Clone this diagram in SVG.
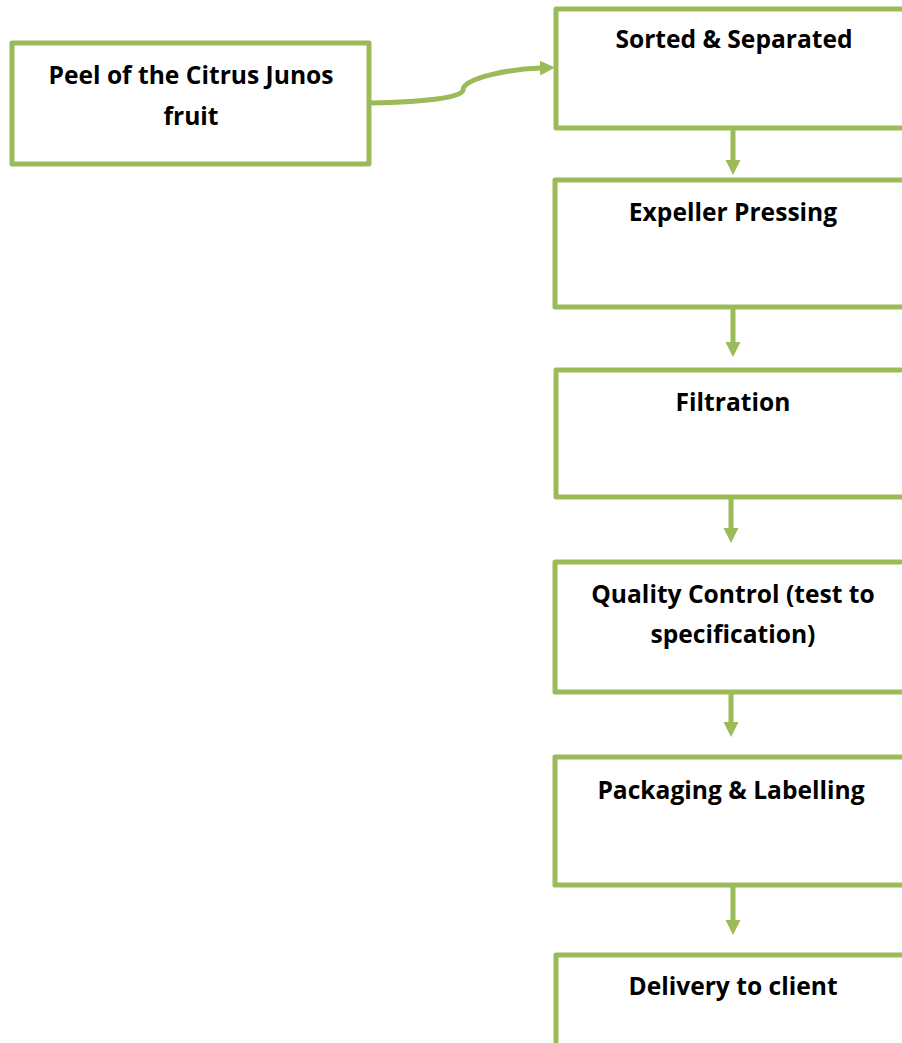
<svg xmlns="http://www.w3.org/2000/svg" width="902" height="1043" viewBox="0 0 902 1043">
<style>
.box{fill:#fff;stroke:#9BBB59;stroke-width:5;stroke-linejoin:round}
.lbl{font-family:"Open Sans","Liberation Sans",sans-serif;font-weight:bold;font-size:24.6px;fill:#000;text-anchor:middle}
.con{fill:none;stroke:#9BBB59;stroke-width:5}
</style>
<defs>
<marker id="ah" markerUnits="userSpaceOnUse" markerWidth="16" markerHeight="16" viewBox="0 0 16 16" refX="1" refY="8" orient="auto">
<path d="M0,0.5 L15,8 L0,15.5 z" fill="#9BBB59"/>
</marker>
</defs>
<rect width="902" height="1043" fill="#fff"/>
<g id="connectors">
<path class="con" d="M369,103 C430,102 463,97 463,90 C463,78 510,69 541,68" marker-end="url(#ah)"/>
<line class="con" x1="733" y1="128" x2="733" y2="161" marker-end="url(#ah)"/>
<line class="con" x1="733" y1="307" x2="733" y2="343" marker-end="url(#ah)"/>
<line class="con" x1="731" y1="497" x2="731" y2="529" marker-end="url(#ah)"/>
<line class="con" x1="731" y1="690" x2="731" y2="723" marker-end="url(#ah)"/>
<line class="con" x1="733" y1="885" x2="733" y2="921" marker-end="url(#ah)"/>
</g>
<g id="peel">
<rect class="box" x="12" y="43" width="357" height="121"/>
<text class="lbl" x="191" y="84">Peel of the Citrus Junos</text>
<text class="lbl" x="191" y="125">fruit</text>
</g>
<g id="sorted">
<rect class="box" x="556" y="9" width="360" height="119"/>
<text class="lbl" x="734" y="48">Sorted &amp; Separated</text>
</g>
<g id="expeller">
<rect class="box" x="555" y="180" width="360" height="127"/>
<text class="lbl" x="733" y="221">Expeller Pressing</text>
</g>
<g id="filtration">
<rect class="box" x="556" y="370" width="360" height="127"/>
<text class="lbl" x="733" y="411">Filtration</text>
</g>
<g id="quality">
<rect class="box" x="555" y="562" width="360" height="130"/>
<text class="lbl" x="733" y="603">Quality Control (test to</text>
<text class="lbl" x="733" y="643">specification)</text>
</g>
<g id="packaging">
<rect class="box" x="555" y="757" width="360" height="128"/>
<text class="lbl" x="731" y="799">Packaging &amp; Labelling</text>
</g>
<g id="delivery">
<rect class="box" x="556" y="955" width="360" height="120"/>
<text class="lbl" x="733" y="995">Delivery to client</text>
</g>
</svg>
